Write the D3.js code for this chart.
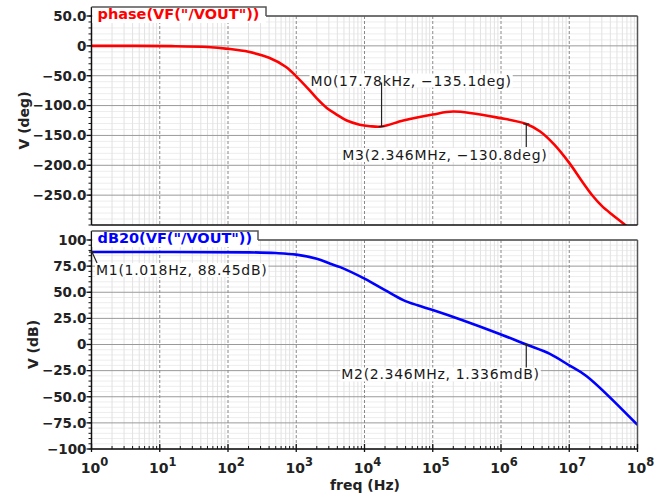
<!DOCTYPE html>
<html>
<head>
<meta charset="utf-8">
<script src="https://cdn.jsdelivr.net/npm/d3@7"></script>
<style>
  body { margin: 0; background: #fff; }
  text { font-family: "DejaVu Sans", sans-serif; }
</style>
</head>
<body>
<script>
const width = 665;
const height = 500;

// ---- data ----
const freqTicks = [1e0, 1e1, 1e2, 1e3, 1e4, 1e5, 1e6, 1e7, 1e8];
const freqExponents = ["0", "1", "2", "3", "4", "5", "6", "7", "8"];

const phaseTicks = [50, 0, -50, -100, -150, -200, -250];
const phaseTickLabels = ["50.0", "0", "\u221250.0", "\u2212100.0", "\u2212150.0", "\u2212200.0", "\u2212250.0"];

const magTicks = [100, 75, 50, 25, 0, -25, -50, -75, -100];
const magTickLabels = ["100", "75.0", "50.0", "25.0", "0", "\u221225.0", "\u221250.0", "\u221275.0", "\u2212100"];

// phase(VF("/VOUT")) in deg
const phaseFreq = [1, 15, 50, 100, 200, 400, 700, 1000, 1500, 2000, 2800, 3900, 5500, 8500, 12000, 17780, 37000, 100000, 200000, 980000, 2346000, 3700000, 6000000, 10000000, 15000000, 22000000, 30000000, 44000000, 66000000, 100000000];
const phaseDeg  = [0, -0.5, -2, -5, -10, -20, -35, -51, -72, -88, -104, -115, -125, -132, -134.5, -135.1, -125, -115, -110, -121, -130.8, -143, -165, -196, -225, -251, -268, -284, -300, -318];

// dB20(VF("/VOUT")) in dB
const magFreq = [1, 200, 500, 1000, 2000, 3160, 4400, 10000, 20000, 37000, 60000, 100000, 280000, 1000000, 2346000, 5200000, 10000000, 18000000, 100000000];
const magDb   = [88.45, 88.2, 87.5, 86, 82, 77.3, 74, 63, 52, 42.5, 37.5, 33, 23, 9.6, 0.001336, -9, -20, -30.3, -77];

const markerNames  = ["M0", "M3", "M1", "M2"];
const markerFreq   = [17780, 2346000, 1.018, 2346000];
const markerValue  = [-135.1, -130.8, 88.45, 0.001336];
const markerLabels = ["M0(17.78kHz, \u2212135.1deg)", "M3(2.346MHz, \u2212130.8deg)", "M1(1.018Hz, 88.45dB)", "M2(2.346MHz, 1.336mdB)"];

// ---- layout ----
const plotLeft = 91.5;
const plotRight = 637.5;

const svg = d3.select('body')
  .append('svg')
  .attr('width', width)
  .attr('height', height);

svg.append('rect')
  .attr('width', width)
  .attr('height', height)
  .attr('fill', '#fff');

const x = d3.scaleLog()
  .domain([1, 1e8])
  .range([plotLeft, plotRight]);

const yPhase = d3.scaleLinear().domain([-300, 50]).range([225, 16]);
const yMag = d3.scaleLinear().domain([-100, 100]).range([449, 240]);

// minor x positions 2..9 per decade
const minorFreqs = [];
for (let d = 0; d < 8; d++) {
  for (let k = 2; k <= 9; k++) minorFreqs.push(k * Math.pow(10, d));
}

function drawPanel(opts) {
  const y = opts.y;
  const top = y.range()[1], bottom = y.range()[0];
  const g = svg.append('g');
  const step = opts.ticks[0] - opts.ticks[1];

  // minor horizontal grid
  const minorVals = d3.range(y.domain()[0], y.domain()[1] + 0.001, step / 5)
    .filter(v => !opts.ticks.includes(v));
  g.selectAll('.hminor').data(minorVals).enter().append('line')
    .attr('x1', plotLeft).attr('x2', plotRight)
    .attr('y1', d => y(d)).attr('y2', d => y(d))
    .attr('stroke', '#ededed').attr('stroke-width', 1);

  // minor vertical grid
  g.selectAll('.vminor').data(minorFreqs).enter().append('line')
    .attr('x1', d => x(d)).attr('x2', d => x(d))
    .attr('y1', top).attr('y2', bottom)
    .attr('stroke', '#e2e2e2').attr('stroke-width', 1);

  // major horizontal grid
  g.selectAll('.hmajor').data(opts.ticks).enter().append('line')
    .attr('x1', plotLeft).attr('x2', plotRight)
    .attr('y1', d => y(d)).attr('y2', d => y(d))
    .attr('stroke', '#9a9a9a').attr('stroke-width', 1);

  // decade lines, dashed
  g.selectAll('.vmajor').data(freqTicks.slice(1, -1)).enter().append('line')
    .attr('x1', d => x(d)).attr('x2', d => x(d))
    .attr('y1', top).attr('y2', bottom)
    .attr('stroke', '#8a8a8a').attr('stroke-width', 1)
    .attr('stroke-dasharray', '3,2');

  // curve, clipped to the plot
  const clipId = 'clip' + opts.id;
  svg.append('clipPath').attr('id', clipId)
    .append('rect')
    .attr('x', plotLeft).attr('y', top)
    .attr('width', plotRight - plotLeft).attr('height', bottom - top);

  const line = d3.line()
    .x(d => x(d[0]))
    .y(d => y(d[1]))
    .curve(d3.curveCatmullRom.alpha(0.5));

  g.append('path')
    .datum(d3.zip(opts.freq, opts.vals))
    .attr('clip-path', 'url(#' + clipId + ')')
    .attr('d', line)
    .attr('fill', 'none')
    .attr('stroke', opts.color)
    .attr('stroke-width', 2.6)
    .attr('stroke-linejoin', 'round');

  // frame: top/right grey, left/bottom black
  g.append('line').attr('x1', plotLeft).attr('x2', plotRight).attr('y1', top).attr('y2', top)
    .attr('stroke', '#555').attr('stroke-width', 1.5);
  g.append('line').attr('x1', plotRight).attr('x2', plotRight).attr('y1', top).attr('y2', bottom)
    .attr('stroke', '#555').attr('stroke-width', 1.5);
  g.append('line').attr('x1', plotLeft).attr('x2', plotRight).attr('y1', bottom).attr('y2', bottom)
    .attr('stroke', '#111').attr('stroke-width', 1.5);
  g.append('line').attr('x1', plotLeft).attr('x2', plotLeft).attr('y1', top - 9).attr('y2', bottom)
    .attr('stroke', '#111').attr('stroke-width', 1.5);

  // y ticks
  const minorTicks = d3.range(y.domain()[0], y.domain()[1] + 0.001, step / 5);
  g.selectAll('.ytm').data(minorTicks).enter().append('line')
    .attr('x1', plotLeft - 3).attr('x2', plotLeft)
    .attr('y1', d => y(d)).attr('y2', d => y(d))
    .attr('stroke', '#111');
  g.selectAll('.ytM').data(opts.ticks).enter().append('line')
    .attr('x1', plotLeft - 5).attr('x2', plotLeft)
    .attr('y1', d => y(d)).attr('y2', d => y(d))
    .attr('stroke', '#111').attr('stroke-width', 1.3);
  g.selectAll('.ytl').data(opts.ticks).enter().append('text')
    .attr('x', plotLeft - 5)
    .attr('y', d => y(d))
    .attr('dy', '0.36em')
    .attr('text-anchor', 'end')
    .attr('font-size', 13.5)
    .attr('font-weight', 'bold')
    .attr('fill', '#222')
    .text((d, i) => opts.labels[i]);

  // title tab
  g.append('rect')
    .attr('x', plotLeft + 0.75).attr('y', top - 9)
    .attr('width', opts.tabRight - plotLeft - 0.75).attr('height', 16)
    .attr('fill', '#fff');
  g.append('path')
    .attr('d', `M${plotLeft},${top - 9}H${opts.tabRight}V${top}`)
    .attr('fill', 'none').attr('stroke', '#555').attr('stroke-width', 1.5);
  g.append('text')
    .attr('x', plotLeft + 6).attr('y', top + 3)
    .attr('font-size', 14.5)
    .attr('font-weight', 'bold')
    .attr('fill', opts.color)
    .text(opts.title);

  // axis title
  g.append('text')
    .attr('transform', `translate(${opts.titleX},${(top + bottom) / 2}) rotate(-90)`)
    .attr('text-anchor', 'middle')
    .attr('dy', '0.35em')
    .attr('font-size', 14)
    .attr('font-weight', 'bold')
    .attr('fill', '#222')
    .text(opts.axisTitle);

  return g;
}

drawPanel({
  id: 'phase', y: yPhase, ticks: phaseTicks, labels: phaseTickLabels,
  freq: phaseFreq, vals: phaseDeg, color: '#ff0000',
  title: 'phase(VF("/VOUT"))', tabRight: 266, axisTitle: 'V (deg)', titleX: 24
});
drawPanel({
  id: 'mag', y: yMag, ticks: magTicks, labels: magTickLabels,
  freq: magFreq, vals: magDb, color: '#0000ff',
  title: 'dB20(VF("/VOUT"))', tabRight: 258, axisTitle: 'V (dB)', titleX: 33
});

// x axis ticks (bottom panel)
const xAxisY = yMag.range()[0];
svg.selectAll('.xtm').data(minorFreqs).enter().append('line')
  .attr('x1', d => x(d)).attr('x2', d => x(d))
  .attr('y1', xAxisY - 3).attr('y2', xAxisY)
  .attr('stroke', '#111');
svg.selectAll('.xtM').data(freqTicks).enter().append('line')
  .attr('x1', d => x(d)).attr('x2', d => x(d))
  .attr('y1', xAxisY - 5).attr('y2', xAxisY + 3)
  .attr('stroke', '#111').attr('stroke-width', 1.3);

const xLabels = svg.selectAll('.xtl').data(freqTicks).enter().append('text')
  .attr('x', d => x(d) + 3)
  .attr('y', 473)
  .attr('text-anchor', 'middle')
  .attr('font-size', 14)
  .attr('font-weight', 'bold')
  .attr('fill', '#222');
xLabels.append('tspan').text('10');
xLabels.append('tspan')
  .attr('dy', -7)
  .attr('font-size', 11.5)
  .text((d, i) => freqExponents[i]);

svg.append('text')
  .attr('x', (plotLeft + plotRight) / 2 + 0.5)
  .attr('y', 490)
  .attr('text-anchor', 'middle')
  .attr('font-size', 14)
  .attr('font-weight', 'bold')
  .attr('fill', '#222')
  .text('freq (Hz)');

// markers
const markerScale = [yPhase, yPhase, yMag, yMag];
// label placement relative to the marker point: [dx, baseline dy, line end dx, line end dy]
const markerLayout = [
  [-71, -41, 0, -44],
  [-184, 36, 0, 23],
  [4, 23, 5, 11],
  [-185, 35, 0, 23]
];

markerNames.forEach(function(name, i) {
  const px = x(markerFreq[i]);
  const py = markerScale[i](markerValue[i]);
  const lay = markerLayout[i];
  const g = svg.append('g');

  const label = g.append('text')
    .attr('x', px + lay[0])
    .attr('y', py + lay[1])
    .attr('font-size', 14)
    .attr('letter-spacing', 0.7)
    .attr('fill', '#1a1a1a')
    .text(markerLabels[i]);
  const bb = label.node().getBBox();
  g.insert('rect', 'text')
    .attr('x', bb.x - 1).attr('y', bb.y + 1)
    .attr('width', bb.width + 2).attr('height', bb.height - 2)
    .attr('fill', '#fff');

  g.append('line')
    .attr('x1', px).attr('y1', py)
    .attr('x2', px + lay[2]).attr('y2', py + lay[3])
    .attr('stroke', '#222').attr('stroke-width', 1.2);
  g.append('line')
    .attr('x1', px - 3).attr('x2', px + 3)
    .attr('y1', py).attr('y2', py)
    .attr('stroke', '#222').attr('stroke-width', 1.2);
});
</script>
</body>
</html>
